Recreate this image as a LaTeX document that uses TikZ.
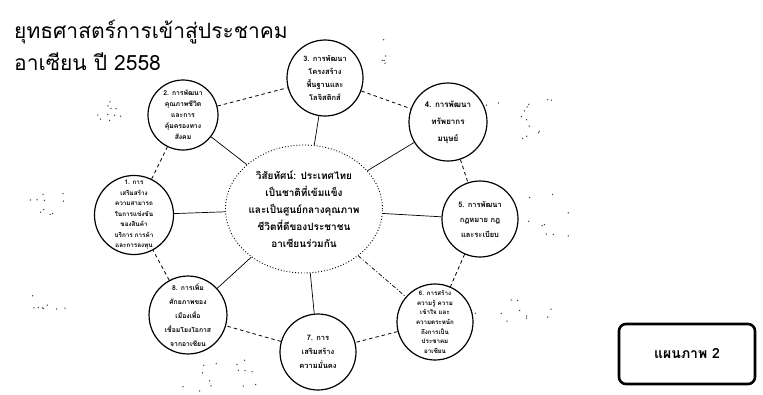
\documentclass[tikz,border=0pt]{standalone}
\usepackage{fontspec}
\setmainfont[Script=Thai]{Loma}
\usetikzlibrary{shapes.geometric}
\tikzset{
  sat/.style={circle, draw, line width=1.2pt, inner sep=0pt, align=center, font=\bfseries\fontsize{7.5}{12}\selectfont},
  ring/.style={line width=0.8pt, dash pattern=on 3.5pt off 3pt},
  spoke/.style={line width=0.7pt},
  vision/.style={ellipse, draw, dotted, line width=0.9pt, minimum width=156pt, minimum height=128pt, inner sep=0pt, align=center, font=\bfseries\fontsize{10}{17}\selectfont},
  labelbox/.style={draw, rounded corners=7pt, line width=2.6pt, minimum width=136pt, minimum height=60pt, font=\bfseries\fontsize{14}{17}\selectfont},
  titletext/.style={anchor=west, inner sep=0pt, font=\fontsize{21}{30}\selectfont},
  noisedot/.style={fill=black!75}
}
\begin{document}
\begin{tikzpicture}[x=1pt,y=-1pt]
\useasboundingbox (0,0) rectangle (763,394);
\node[titletext] (t1) at (14,32) {ยุทธศาสตร์การเข้าสู่ประชาคม};
\node[titletext] (t2) at (14,62) {อาเซียน ปี 2558};

\node[vision] (v) at (304,209) {วิสัยทัศน์: ประเทศไทย\\เป็นชาติที่เข้มแข็ง\\และเป็นศูนย์กลางคุณภาพ\\ชีวิตที่ดีของประชาชน\\อาเซียนร่วมกัน};

\node[sat, minimum size=78pt, font=\bfseries\fontsize{6.3}{10.5}\selectfont] (c1) at (134,215) {1. การ\\เสริมสร้าง\\ความสามารถ\\ในการแข่งขัน\\ของสินค้า\\บริการ การค้า\\และการลงทุน};
\node[sat, minimum size=70pt, font=\bfseries\fontsize{6.8}{11}\selectfont] (c2) at (183,115) {2. การพัฒนา\\คุณภาพชีวิต\\และการ\\คุ้มครองทาง\\สังคม};
\node[sat, minimum size=76pt, font=\bfseries\fontsize{7.5}{12.7}\selectfont] (c3) at (325,78) {3. การพัฒนา\\โครงสร้าง\\พื้นฐานและ\\โลจิสติกส์};
\node[sat, minimum size=78pt, font=\bfseries\fontsize{8}{17}\selectfont] (c4) at (448,122) {4. การพัฒนา\\ทรัพยากร\\มนุษย์};
\node[sat, minimum size=76pt, font=\bfseries\fontsize{7.5}{15}\selectfont] (c5) at (480,219) {5. การพัฒนา\\กฎหมาย กฎ\\และระเบียบ};
\node[sat, minimum size=76pt, font=\bfseries\fontsize{6.2}{9.6}\selectfont] (c6) at (435,322) {6. การสร้าง\\ความรู้ ความ\\เข้าใจ และ\\ความตระหนัก\\ถึงการเป็น\\ประชาคม\\อาเซียน};
\node[sat, minimum size=76pt, font=\bfseries\fontsize{7.5}{14}\selectfont] (c7) at (318,352) {7. การ\\เสริมสร้าง\\ความมั่นคง};
\node[sat, minimum size=74pt, font=\bfseries\fontsize{6.8}{14}\selectfont] (c8) at (188,315) {8. การเพิ่ม\\ศักยภาพของ\\เมืองเพื่อ\\เชื่อมโยงโอกาส\\จากอาเซียน};

\foreach \c in {c1,c2,c3,c4,c5,c7,c8} {\draw[spoke] (v) -- (\c);}
\draw[spoke, dash pattern=on 4pt off 2pt on 1pt off 2pt] (v) -- (c6);

\draw[ring] (c1) -- (c2);
\draw[ring] (c2) -- (c3);
\draw[ring] (c3) -- (c4);
\draw[ring] (c4) -- (c5);
\draw[ring] (c5) -- (c6);
\draw[ring] (c6) -- (c7);
\draw[ring] (c7) -- (c8);
\draw[ring] (c8) -- (c1);

\node[labelbox] (box) at (687,354) {แผนภาพ 2};

% faint scanned specks (illegible remnants)
\pgfmathsetseed{11}
\foreach \cx/\cy/\w/\h/\n in {104/112/17/12/10, 383/52/3/16/5, 520/120/35/22/14, 545/215/28/24/10, 515/312/40/12/10, 220/376/38/16/14, 42/205/22/12/10, 52/302/20/12/8}{
  \foreach \k in {1,...,\n}{
    \fill[noisedot] (\cx+\w*rand, \cy+\h*rand) circle (0.75pt);
  }
}
\end{tikzpicture}
\end{document}
